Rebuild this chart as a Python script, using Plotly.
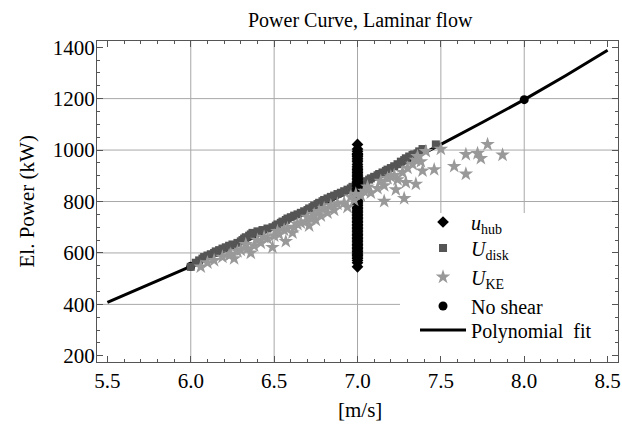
import plotly.graph_objects as go

# ---- data ----
power_kw = [546, 562, 571, 578, 584, 590, 595, 600, 606, 611, 617, 622, 628, 633, 639,
            645, 650, 656, 661, 667, 672, 678, 684, 689, 695, 700, 706, 711, 717, 722,
            728, 734, 739, 745, 750, 756, 762, 767, 773, 778, 784, 790, 795, 801, 806,
            812, 818, 823, 829, 834, 840, 846, 851, 857, 862, 868, 874, 879, 885, 890,
            896, 902, 907, 913, 919, 924, 930, 937, 945, 955, 961, 968, 975, 981, 983,
            987, 995, 1004, 1022]

u_hub = [7.0] * len(power_kw)

u_disk = [6.00, 6.03, 6.05, 6.07, 6.08, 6.10, 6.12, 6.14, 6.15, 6.17, 6.19, 6.21, 6.23, 6.25, 6.28,
          6.30, 6.31, 6.32, 6.33, 6.35, 6.36, 6.37, 6.40, 6.43, 6.46, 6.49, 6.51, 6.52, 6.54, 6.55,
          6.57, 6.58, 6.60, 6.62, 6.64, 6.66, 6.68, 6.70, 6.71, 6.73, 6.74, 6.76, 6.77, 6.79, 6.80,
          6.82, 6.84, 6.86, 6.88, 6.90, 6.92, 6.94, 6.96, 6.97, 6.99, 7.01, 7.03, 7.05, 7.07, 7.08,
          7.10, 7.12, 7.13, 7.15, 7.17, 7.18, 7.20, 7.22, 7.24, 7.26, 7.28, 7.29, 7.31, 7.33, 7.34,
          7.36, 7.37, 7.39, 7.47]

u_ke = [6.06, 6.10, 6.14, 6.26, 6.19, 6.23, 6.24, 6.36, 6.28, 6.30, 6.34, 6.49, 6.38, 6.33, 6.42,
        6.57, 6.40, 6.46, 6.44, 6.50, 6.53, 6.61, 6.52, 6.56, 6.58, 6.62, 6.71, 6.64, 6.66, 6.69,
        6.75, 6.72, 6.70, 6.78, 6.74, 6.82, 6.77, 6.86, 6.80, 6.94, 6.84, 6.88, 6.92, 7.16, 6.98,
        7.28, 6.96, 7.02, 6.99, 7.08, 7.04, 7.23, 7.12, 7.06, 7.16, 7.35, 7.29, 7.14, 7.24, 7.18,
        7.20, 7.22, 7.65, 7.27, 7.39, 7.46, 7.30, 7.58, 7.33, 7.38, 7.35, 7.74, 7.36, 7.87, 7.65,
        7.72, 7.41, 7.50, 7.78]

noshear_u = [6.0, 7.0, 8.0]
noshear_p = [548, 854, 1196]

fit_u = [5.5, 5.75, 6.0, 6.25, 6.5, 6.75, 7.0, 7.25, 7.5, 7.75, 8.0, 8.25, 8.5]
fit_p = [408, 477, 548, 621, 696, 774, 854, 937, 1022, 1108, 1196, 1290, 1388]

x_grid = [6.0, 6.5, 7.0, 7.5, 8.0]
y_grid = [400, 600, 800, 1000, 1200]
x_ticks = [5.5, 6.0, 6.5, 7.0, 7.5, 8.0, 8.5]
x_ticktext = ["5.5", "6.0", "6.5", "7.0", "7.5", "8.0", "8.5"]
y_ticks = [200, 400, 600, 800, 1000, 1200, 1400]

FONT = "Liberation Serif, Times New Roman, serif"

fig = go.Figure()

fig.add_trace(go.Scatter(x=fit_u, y=fit_p, mode="lines", name="Polynomial  fit",
                         line=dict(color="black", width=3), legend="legend5"))
fig.add_trace(go.Scatter(x=noshear_u, y=noshear_p, mode="markers", name="No shear",
                         marker=dict(symbol="circle", color="black", size=9), legend="legend4"))
fig.add_trace(go.Scatter(x=u_disk, y=power_kw, mode="markers", name="<i>U</i><sub>disk</sub>",
                         marker=dict(symbol="square", color="#555555", size=8), legend="legend2"))
fig.add_trace(go.Scatter(x=u_hub, y=power_kw, mode="markers", name="<i>u</i><sub>hub</sub>",
                         marker=dict(symbol="diamond", color="black", size=9), legend="legend"))
fig.add_trace(go.Scatter(x=u_ke, y=power_kw, mode="markers", name="<i>U</i><sub>KE</sub>",
                         marker=dict(symbol="star", color="#999999", size=11), legend="legend3"))

shapes = []
for gx in x_grid:
    shapes.append(dict(type="line", xref="x", yref="paper", x0=gx, x1=gx, y0=0, y1=1,
                       line=dict(color="#a8a8a8", width=1), layer="below"))
for gy in y_grid:
    shapes.append(dict(type="line", xref="paper", yref="y", x0=0, x1=1, y0=gy, y1=gy,
                       line=dict(color="#a8a8a8", width=1), layer="below"))
# white legend background
shapes.append(dict(type="rect", xref="paper", yref="paper", x0=0.5816, x1=1, y0=0, y1=0.464,
                   fillcolor="white", line=dict(width=0), layer="below"))

axis_common = dict(showgrid=False, zeroline=False, showline=True, linecolor="#555555", linewidth=1,
                   mirror="ticks", ticks="inside", ticklen=6, tickcolor="#555555", tickwidth=1,
                   automargin=False, ticklabeloverflow="allow",
                   tickfont=dict(family=FONT, size=21, color="black"))

leg_x = 0.6104
leg_y = [0.4361, 0.3551, 0.2648, 0.1745, 0.0997]


def leg(yv):
    return dict(x=leg_x, y=yv, xanchor="left", yanchor="middle", bgcolor="rgba(0,0,0,0)",
                borderwidth=0, itemwidth=46, font=dict(family=FONT, size=20, color="black"),
                itemsizing="trace")


fig.update_layout(
    width=622, height=430,
    margin=dict(l=97, r=4, t=41, b=68),
    paper_bgcolor="white", plot_bgcolor="white",
    font=dict(family=FONT, size=20, color="black"),
    title=dict(text="Power Curve, Laminar flow", x=0.579, xanchor="center",
               y=0.954, yanchor="middle", yref="container",
               font=dict(family=FONT, size=20, color="black")),
    xaxis=dict(range=[5.4376, 8.5624], tickvals=x_ticks, ticktext=x_ticktext,
               minor=dict(dtick=0.1, ticks="inside", ticklen=3, tickcolor="#555555", showgrid=False),
               **axis_common),
    yaxis=dict(range=[176, 1424], tickvals=y_ticks, ticklabelstandoff=-3,
               minor=dict(dtick=50, ticks="inside", ticklen=3, tickcolor="#555555", showgrid=False),
               **axis_common),
    showlegend=True,
    legend=leg(leg_y[0]), legend2=leg(leg_y[1]), legend3=leg(leg_y[2]),
    legend4=leg(leg_y[3]), legend5=leg(leg_y[4]),
    shapes=shapes,
    annotations=[
        dict(text="El. Power (kW)", xref="paper", yref="paper", x=-0.1344, y=0.5,
             xanchor="center", yanchor="middle", textangle=-90, showarrow=False,
             font=dict(family=FONT, size=21, color="black")),
        dict(text="[m/s]", xref="paper", yref="paper", x=0.505, y=-0.1495,
             xanchor="center", yanchor="middle", showarrow=False,
             font=dict(family=FONT, size=21, color="black")),
    ],
)

fig.write_html("out.html", config={"displayModeBar": False},
               post_script="document.body.style.margin='0';")
